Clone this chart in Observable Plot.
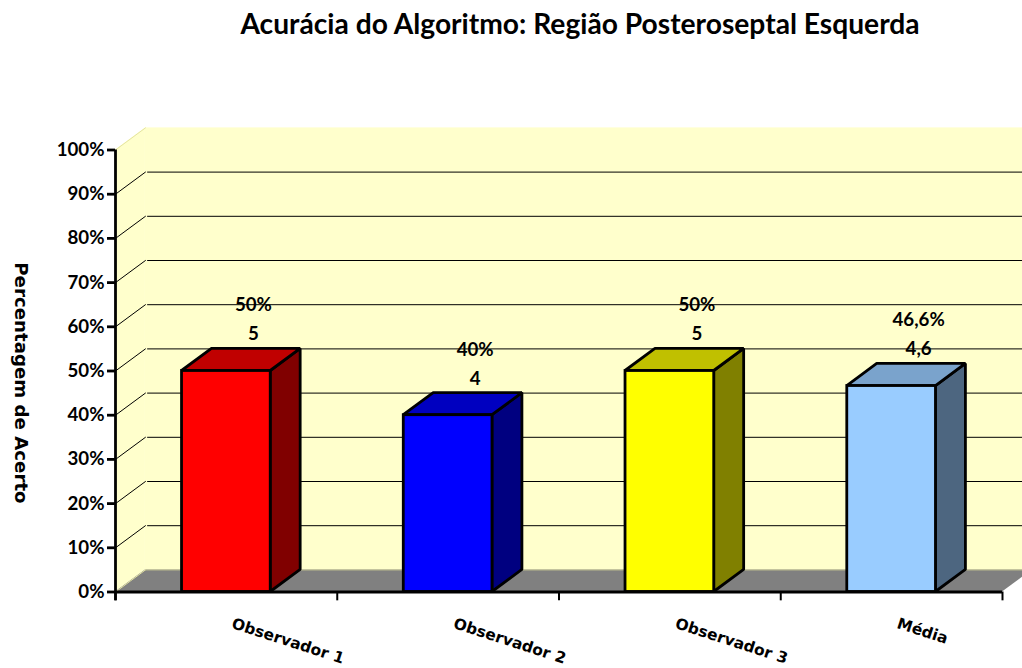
<!DOCTYPE html>
<html lang="pt">
<head>
<meta charset="utf-8">
<script src="https://cdn.jsdelivr.net/npm/d3@7"></script>
<script src="https://cdn.jsdelivr.net/npm/@observablehq/plot@0.6"></script>
<style>
html,body{margin:0;padding:0;background:#fff;overflow:hidden}
#title{height:60px;box-sizing:border-box;padding:6px 0 0 138px;text-align:center;font:bold 28.2px/34px Lato,sans-serif;color:#000;white-space:nowrap}
svg{display:block}
</style>
</head>
<body>
<div id="title">Acurácia do Algoritmo: Região Posteroseptal Esquerda</div>
<div id="chart"></div>
<script>
const categories = ["Observador 1", "Observador 2", "Observador 3", "Média"];
const percents = [50, 40, 50, 46.6];
const percentLabels = ["50%", "40%", "50%", "46,6%"];
const countLabels = ["5", "4", "5", "4,6"];
const yTicks = [0, 10, 20, 30, 40, 50, 60, 70, 80, 90, 100];
const gridTicks = [10, 20, 30, 40, 50, 60, 70, 80, 90];
const xBoundaries = [0, 1, 2, 3, 4];

const frontFill = ["#ff0000", "#0000ff", "#ffff00", "#99ccff"];
const topFill = ["#c00000", "#0000c0", "#c0c000", "#7aa3cc"];
const sideFill = ["#800000", "#000080", "#808000", "#4d6680"];

// oblique projection of the 3D chart, in data units of the two scales
const depthX = 0.135, depthY = 5;
const barStart = 0.3, barWidth = 0.4;
const ink = {stroke: "#000", strokeWidth: 2.8, strokeLinejoin: "miter"};
const paleEdge = {stroke: "#e4e4a0", strokeWidth: 1};

const bars = categories.flatMap((c, i) => {
  const x0 = i + barStart, x1 = x0 + barWidth, v = percents[i];
  return [
    Plot.areaY([{x: x1, b: 0, t: v}, {x: x1 + depthX, b: depthY, t: v + depthY}],
      {x: "x", y1: "b", y2: "t", fill: sideFill[i], ...ink}),
    Plot.areaX([{y: v, a: x0, b: x1}, {y: v + depthY, a: x0 + depthX, b: x1 + depthX}],
      {y: "y", x1: "a", x2: "b", fill: topFill[i], ...ink}),
    Plot.rect([{a: x0, b: x1, t: v}],
      {x1: "a", x2: "b", y1: 0, y2: "t", fill: frontFill[i], ...ink})
  ];
});

const labelRows = categories.map((c, i) => ({
  c, cx: i + 0.5, v: percents[i], p: percentLabels[i], n: countLabels[i]
}));

const plot = Plot.plot({
  width: 1022,
  height: 608,
  marginLeft: 115,
  marginRight: 0,
  marginTop: 0,
  marginBottom: 0,
  style: {fontFamily: "Lato, sans-serif", fontWeight: "bold", fontSize: "18.7px", color: "#000", background: "transparent"},
  x: {type: "linear", domain: [0, 907 / 221.75], range: [115, 1022], axis: null},
  y: {type: "linear", domain: [0, 100], range: [531.5, 89.5], axis: null},
  marks: [
    // back wall
    Plot.rect([{}], {x1: depthX, x2: 4 + depthX, y1: depthY, y2: 100 + depthY, fill: "#ffffcc"}),
    // left wall
    Plot.areaY([{x: 0, b: 0, t: 100}, {x: depthX, b: depthY, t: 100 + depthY}],
      {x: "x", y1: "b", y2: "t", fill: "#ffffcc"}),
    // floor
    Plot.areaX([{y: 0, a: 0, b: 4}, {y: depthY, a: depthX, b: 4 + depthX}],
      {y: "y", x1: "a", x2: "b", fill: "#808080"}),
    Plot.ruleY([depthY], {x1: depthX, x2: 4 + depthX, stroke: "#c8c890", strokeWidth: 1}),
    // pale edges of the left wall
    Plot.line([{x: 0, y: 100}, {x: depthX, y: 100 + depthY}], {x: "x", y: "y", ...paleEdge}),
    Plot.line([{x: 0, y: 0}, {x: depthX, y: depthY}], {x: "x", y: "y", ...paleEdge}),
    // gridlines
    Plot.ruleY(gridTicks, {y: d => d + depthY, x1: depthX + 0.01, x2: 4 + depthX, stroke: "#000", strokeWidth: 1}),
    ...gridTicks.map(t => Plot.line([{x: 0, y: t}, {x: depthX, y: t + depthY}],
      {x: "x", y: "y", stroke: "#000", strokeWidth: 1})),
    // bars
    ...bars,
    // axes
    Plot.ruleX([0], {y1: -2, y2: 100, stroke: "#000", strokeWidth: 2.8}),
    Plot.ruleY([0], {x1: 0, x2: 4, stroke: "#000", strokeWidth: 2.8}),
    Plot.axisY({ticks: yTicks, tickSize: 8, tickPadding: 3, tickFormat: d => d + "%", strokeWidth: 2.8, label: null, anchor: "left"}),
    Plot.ruleX(xBoundaries, {y1: 0, y2: -2, stroke: "#000", strokeWidth: 2}),
    // category labels
    Plot.text(labelRows, {x: "cx", y: 0, text: "c", rotate: 18, textAnchor: "start", lineAnchor: "middle", dx: 6, dy: 31,
      fontFamily: "DejaVu Sans", fontSize: 15.4}),
    // value labels
    Plot.text(labelRows, {x: "cx", y: d => d.v + depthY, text: "n", dx: 27, dy: -14.5}),
    Plot.text(labelRows, {x: "cx", y: d => d.v + depthY, text: "p", dx: 27, dy: -43.5}),
    // y axis title
    Plot.text(["Percentagem de Acerto"], {text: d => d, x: 0, y: 47.3, dx: -95, rotate: 90,
      fontFamily: "DejaVu Sans", fontSize: 18.2})
  ]
});
document.getElementById("chart").appendChild(plot);
</script>
</body>
</html>
